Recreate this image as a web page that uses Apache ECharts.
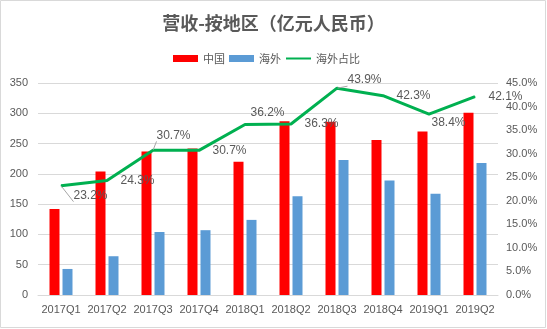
<!DOCTYPE html>
<html><head><meta charset="utf-8">
<script src="https://cdn.jsdelivr.net/npm/echarts@6/dist/echarts.min.js"></script>
<style>html,body{margin:0;padding:0;background:#fff}#c{width:547px;height:329px}</style>
</head><body><div id="c"></div>
<script>
var categories = ['2017Q1','2017Q2','2017Q3','2017Q4','2018Q1','2018Q2','2018Q3','2018Q4','2019Q1','2019Q2'];
var chinaValues = [142, 204, 237, 242, 220, 287, 286, 256, 270, 301];
var overseasValues = [43, 64, 104, 107, 124, 163, 223, 189, 167, 218];
var overseasShare = [23.2, 24.3, 30.7, 30.7, 36.2, 36.3, 43.9, 42.3, 38.4, 42.1];
var labelOffsets = [[-1,10],[0,0],[-10,-15],[0,0],[-8,-12],[0,0],[-3,-8],[0,0],[-11,9],[0,0]];
var leaderIdx = [0,2,6];

var txt = '#595959';
var font = 'Liberation Sans';
var chart = echarts.init(document.getElementById('c'), null, {renderer:'canvas'});
var lineData = overseasShare.map(function(v,i){
  var d = {value: v, label: {offset: labelOffsets[i]}};
  if (leaderIdx.indexOf(i) >= 0) d.labelLine = {show: true, lineStyle:{color:'#A6A6A6', width:1}};
  return d;
});
chart.setOption({
  animation: false,
  title: {text: '营收-按地区（亿元人民币）', left: 'center', top: 9,
    textStyle: {fontFamily: 'Noto Sans CJK SC', fontWeight: 'bold', fontSize: 18, color: txt}},
  legend: {top: 48, left: 168, itemWidth: 25, itemHeight: 7, itemGap: 4,
    textStyle: {fontFamily: 'Noto Sans CJK SC', fontSize: 11, color: txt},
    data: [{name:'中国', icon:'rect'}, {name:'海外', icon:'rect'},
      {name:'海外占比', itemStyle: {opacity: 0}}]},
  graphic: [{type:'rect', shape:{x:0.5,y:0.5,width:545,height:327}, style:{fill:'none', stroke:'#D9D9D9', lineWidth:1}, silent:true}],
  grid: {left: 38, right: 49, top: 83, bottom: 34},
  xAxis: {type: 'category', data: categories,
    axisLine: {lineStyle: {color: '#D9D9D9'}}, axisTick: {show: false},
    axisLabel: {color: txt, fontFamily: font, fontSize: 11, margin: 9, interval: 0}},
  yAxis: [
    {type: 'value', min: 0, max: 350, interval: 50,
      axisLine: {show: false}, axisTick: {show: false},
      axisLabel: {color: txt, fontFamily: font, fontSize: 11, margin: 10},
      splitLine: {lineStyle: {color: '#D9D9D9'}}},
    {type: 'value', min: 0, max: 45, interval: 5,
      axisLine: {show: false}, axisTick: {show: false},
      axisLabel: {color: txt, fontFamily: font, fontSize: 11, margin: 8,
        formatter: function(v){return v.toFixed(1)+'%';}},
      splitLine: {show: false}}
  ],
  series: [
    {name: '中国', type: 'bar', data: chinaValues, barWidth: 10, barGap: '30%',
      itemStyle: {color: '#FF0000'}},
    {name: '海外', type: 'bar', data: overseasValues, barWidth: 10, barGap: '30%',
      itemStyle: {color: '#5B9BD5'}},
    {name: '海外占比', type: 'line', yAxisIndex: 1, data: lineData,
      symbol: 'circle', symbolSize: 1, showSymbol: true,
      itemStyle: {color: '#00B050'}, lineStyle: {color: '#00B050', width: 3},
      label: {show: true, position: 'right', distance: 13, color: txt, fontFamily: font, fontSize: 12,
        formatter: function(p){return p.value.toFixed(1)+'%';}}}
  ]
});
</script></body></html>
